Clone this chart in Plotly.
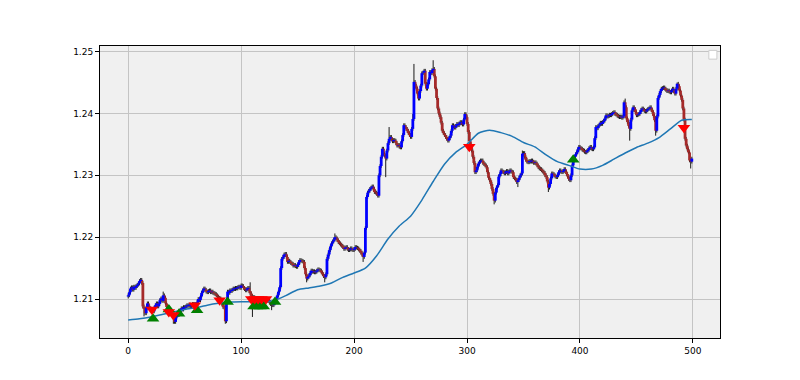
import plotly.graph_objects as go

# ---- data (prices in pips above 1.2000, i.e. 108 -> 1.2108) ----
FIRST_OPEN = 104
CLOSE_PIPS = [
    106, 111, 117, 119, 115, 120, 118, 121, 123, 125,
    129, 131, 126, 88, 84, 77, 86, 93, 88, 85,
    82, 83, 80, 86, 90, 93, 88, 92, 98, 101,
    97, 106, 102, 93, 87, 84, 82, 80, 78, 74,
    68, 63, 70, 76, 74, 80, 82, 85, 83, 87,
    86, 88, 90, 89, 91, 88, 90, 92, 90, 92,
    90, 95, 100, 98, 104, 110, 114, 117, 115, 112,
    111, 113, 114, 111, 112, 110, 109, 108, 106, 104,
    102, 101, 96, 92, 87, 86, 64, 98, 112, 110,
    114, 113, 115, 117, 116, 118, 117, 119, 120, 118,
    122, 121, 118, 116, 114, 116, 118, 113, 109, 105,
    101, 103, 100, 99, 101, 98, 97, 99, 98, 100,
    97, 96, 98, 97, 98, 95, 92, 91, 90, 93,
    96, 101, 106, 112, 119, 150, 165, 168, 172, 173,
    168, 160, 162, 160, 158, 157, 154, 155, 153, 152,
    155, 160, 163, 162, 161, 160, 150, 140, 133, 136,
    138, 142, 146, 144, 145, 143, 144, 146, 148, 147,
    146, 143, 140, 137, 135, 140, 165, 172, 179, 185,
    190, 193, 196, 200, 198, 195, 192, 190, 188, 186,
    184, 181, 183, 184, 181, 179, 180, 182, 180, 179,
    181, 184, 183, 182, 180, 178, 175, 172, 168, 175,
    215, 265, 272, 275, 278, 280, 282, 278, 273, 272,
    270, 267, 300, 315, 330, 343, 335, 332, 327, 340,
    352, 359, 362, 358, 355, 357, 356, 352, 348, 349,
    346, 345, 355, 365, 381, 378, 375, 372, 368, 365,
    362, 375, 391, 451, 445, 440, 432, 424, 436, 445,
    465, 466, 469, 448, 440, 447, 455, 467, 465, 470,
    472, 460, 440, 425, 408, 400, 394, 385, 372, 368,
    365, 362, 359, 356, 360, 364, 372, 381, 379, 377,
    380, 383, 381, 384, 386, 384, 382, 390, 399, 394,
    383, 370, 355, 348, 340, 330, 320, 305, 308, 314,
    319, 322, 324, 324, 320, 318, 316, 313, 305, 296,
    292, 286, 278, 270, 259, 272, 280, 284, 298, 302,
    308, 306, 305, 303, 305, 307, 303, 306, 308, 306,
    305, 297, 295, 293, 289, 292, 296, 300, 303, 335,
    336, 330, 325, 322, 321, 323, 322, 324, 322, 320,
    321, 319, 316, 313, 311, 310, 308, 306, 304, 300,
    297, 290, 280, 286, 295, 303, 302, 300, 298, 297,
    300, 305, 308, 306, 305, 307, 310, 306, 302, 298,
    294, 292, 300, 316, 324, 330, 334, 337, 342, 346,
    344, 343, 341, 340, 338, 337, 339, 341, 344, 346,
    343, 342, 345, 360, 378, 376, 380, 382, 385, 383,
    386, 388, 392, 397, 395, 396, 398, 397, 399, 401,
    402, 399, 398, 396, 395, 394, 395, 393, 395, 418,
    410, 392, 386, 380, 375, 390, 405, 410, 407, 402,
    397, 398, 399, 402, 406, 408, 406, 404, 403, 405,
    407, 408, 410, 406, 402, 396, 389, 372, 395, 425,
    430, 436, 440, 441, 442, 440, 438, 436, 437, 435,
    434, 437, 440, 436, 432, 440, 448, 444, 437, 429,
    422, 408, 390, 359, 348, 342, 337, 324, 322, 327,
]
# notable wick extremes (index: pips)
HIGH_PIPS = {31: 112, 108: 127, 183: 206, 231: 378, 252: 399, 253: 480,
             270: 486, 299: 402, 349: 340, 440: 424, 486: 450}
LOW_PIPS = {14: 72, 40: 60, 86: 60, 110: 71, 127: 82, 158: 127, 174: 127,
            208: 160, 228: 297, 257: 421, 324: 253, 345: 281, 372: 273,
            444: 356, 467: 364, 498: 311}
DEFAULT_WICK = 3

# moving average sampled along the curve (index, pips)
MA_X = [0, 10, 20, 30, 40, 50, 60, 70, 80, 90, 100, 110, 120, 130, 140, 150,
        160, 170, 180, 190, 200, 210, 220, 230, 240, 250, 260, 270, 280, 290,
        300, 310, 320, 330, 340, 350, 360, 370, 380, 390, 400, 410, 420, 430,
        440, 450, 460, 470, 480, 490, 499]
MA_PIPS = [66, 68, 71, 75, 79, 83, 86, 90, 93, 95, 95.5, 95.5, 95.5, 98, 106,
           115, 118, 121, 126, 135, 142, 150, 170, 197, 218, 234, 260, 290,
           318, 337, 350, 368, 373, 369, 363, 353, 346, 333, 322, 316, 310,
           310, 316, 326, 336, 345, 352, 361, 375, 389, 390]

BUY_X = [22, 36, 45, 61, 88, 111, 114, 117, 120, 130, 394]
BUY_PIPS = [68, 83, 76, 82, 95, 88, 88, 88, 88, 95, 325]
SELL_X = [21, 36, 40, 59, 81, 109, 112, 115, 118, 122, 302, 492]
SELL_PIPS = [83, 79, 74, 90, 98, 100, 100, 100, 100, 100, 346, 377]

X_TICKS = [0, 100, 200, 300, 400, 500]
Y_TICKS = [1.21, 1.22, 1.23, 1.24, 1.25]


def px(p):
    return 1.2 + p / 1e4


n = len(CLOSE_PIPS)
opens = [FIRST_OPEN] + CLOSE_PIPS[:-1]

wx, wy = [], []
ux, uy = [], []
dx, dy = [], []
for i in range(n):
    o, c = opens[i], CLOSE_PIPS[i]
    hi = HIGH_PIPS.get(i, max(o, c) + DEFAULT_WICK)
    lo = LOW_PIPS.get(i, min(o, c) - DEFAULT_WICK)
    wx += [i, i, None]
    wy += [px(lo), px(hi), None]
    if c >= o:
        ux += [i, i, None]
        uy += [px(o), px(c), None]
    else:
        dx += [i, i, None]
        dy += [px(o), px(c), None]

fig = go.Figure()
fig.add_trace(go.Scatter(x=wx, y=wy, mode="lines",
                         line=dict(color="#1a1a1a", width=1), hoverinfo="skip"))
fig.add_trace(go.Scatter(x=dx, y=dy, mode="lines",
                         line=dict(color="#a52a2a", width=2.8), hoverinfo="skip"))
fig.add_trace(go.Scatter(x=ux, y=uy, mode="lines",
                         line=dict(color="#0000ff", width=2.8), hoverinfo="skip"))
fig.add_trace(go.Scatter(x=MA_X, y=[px(v) for v in MA_PIPS], mode="lines",
                         line=dict(color="#1f77b4", width=1.5, shape="spline",
                                   smoothing=0.6)))
fig.add_trace(go.Scatter(x=BUY_X, y=[px(v) for v in BUY_PIPS], mode="markers",
                         marker=dict(symbol="triangle-up", color="#008000", size=11)))
fig.add_trace(go.Scatter(x=SELL_X, y=[px(v) for v in SELL_PIPS], mode="markers",
                         marker=dict(symbol="triangle-down", color="#ff0000", size=11)))

axis_common = dict(showgrid=True, gridcolor="#c4c4c4", gridwidth=1,
                   showline=True, linecolor="#000000", linewidth=1, mirror=True,
                   ticks="outside", ticklen=4, tickcolor="#000000",
                   zeroline=False, tickfont=dict(family="DejaVu Sans", size=9,
                                                 color="#000000"))
fig.update_xaxes(range=[-24.95, 523.95], tickvals=X_TICKS, **axis_common)
fig.update_yaxes(range=[1.2037, 1.2509], tickvals=Y_TICKS,
                 ticktext=[f"{v:.2f}" for v in Y_TICKS], **axis_common)

# empty legend box (top right)
fig.add_shape(type="rect", xref="paper", yref="paper",
              x0=0.982, x1=0.995, y0=0.955, y1=0.985,
              line=dict(color="#cccccc", width=1), fillcolor="#ffffff")

fig.update_layout(width=800, height=380, showlegend=False,
                  margin=dict(l=92, r=88, t=38, b=50),
                  plot_bgcolor="#f0f0f0", paper_bgcolor="#ffffff")

fig.write_html("out.html")
